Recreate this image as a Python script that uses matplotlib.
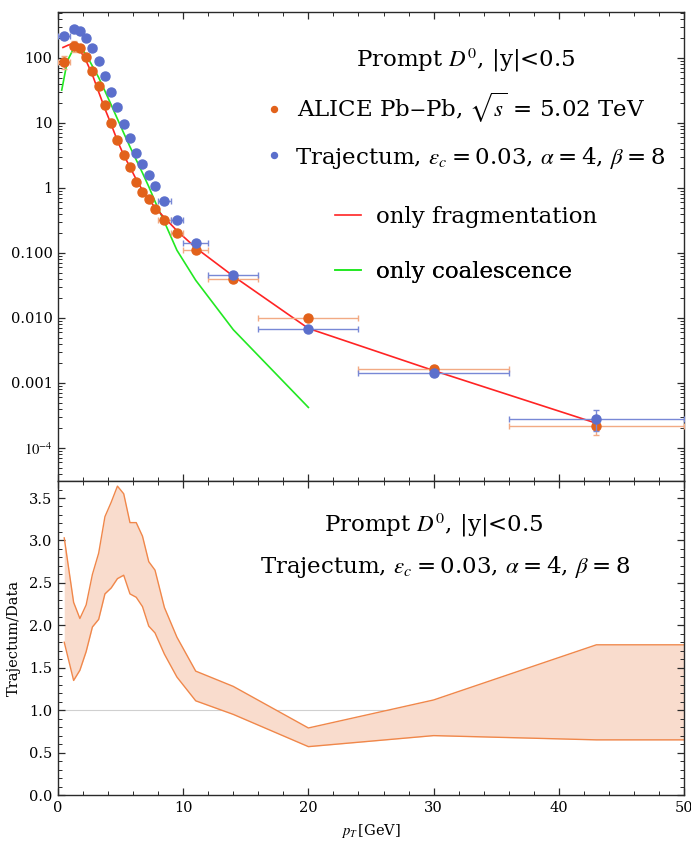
import numpy as np
import matplotlib
matplotlib.use("Agg")
import matplotlib.pyplot as plt
from matplotlib.lines import Line2D
from matplotlib.ticker import MultipleLocator, FixedLocator, LogLocator, NullFormatter

plt.rcParams["font.family"] = ["DejaVu Serif"]
plt.rcParams["mathtext.fontset"] = "stix"

ORANGE = "#e2621b"
BLUE = "#5b6fcc"
RED = "#ff2424"
GREEN = "#22e822"
BAND_EDGE = "#f0874a"
BAND_FILL = "#f9dccd"
FRAME = "#2a2a2a"

# pT bin centres and half widths (GeV)
pt = [0.5, 1.25, 1.75, 2.25, 2.75, 3.25, 3.75, 4.25, 4.75, 5.25, 5.75, 6.25,
      6.75, 7.25, 7.75, 8.5, 9.5, 11, 14, 20, 30, 43]
pt_half = [0.5, 0.25, 0.25, 0.25, 0.25, 0.25, 0.25, 0.25, 0.25, 0.25, 0.25, 0.25,
           0.25, 0.25, 0.25, 0.5, 0.5, 1, 2, 4, 6, 7]

# ALICE Pb-Pb prompt D0 yield and relative uncertainty
alice = [88, 153, 141, 102, 63, 37, 18.7, 10.1, 5.5, 3.2, 2.13, 1.25,
         0.88, 0.67, 0.47, 0.32, 0.20, 0.11, 0.040, 0.0101, 0.00162, 2.2e-4]
alice_rel = [0.22, 0.2, 0.12, 0.1, 0.1, 0.1, 0.12, 0.12, 0.12, 0.1, 0.1, 0.1,
             0.1, 0.1, 0.1, 0.1, 0.1, 0.1, 0.1, 0.1, 0.12, 0.28]

# Trajectum prediction and relative uncertainty
traj = [215, 277, 260, 205, 141, 90, 53, 30, 17.4, 9.7, 5.9, 3.5,
        2.3, 1.6, 1.07, 0.64, 0.32, 0.14, 0.046, 0.0068, 0.00143, 2.8e-4]
traj_rel = [0.02, 0.02, 0.02, 0.02, 0.02, 0.02, 0.02, 0.02, 0.02, 0.02, 0.02, 0.02,
            0.02, 0.02, 0.02, 0.03, 0.03, 0.04, 0.05, 0.06, 0.1, 0.35]

# fragmentation-only and coalescence-only curves
frag_pt = [0.4, 0.8, 1.25, 1.75, 2.25, 2.75, 3.25, 3.75, 4.25, 4.75, 5.25, 5.75,
           6.25, 6.75, 7.25, 7.75, 8.5, 9.5, 11, 14, 20, 30, 43]
frag = [145, 157, 168, 132, 90, 55, 30, 16.5, 9.5, 5.3, 3.2, 2.1,
        1.35, 0.92, 0.67, 0.50, 0.35, 0.22, 0.12, 0.044, 0.0069, 0.00155, 2.4e-4]
coal_pt = [0.3, 0.75, 1.25, 1.75, 2.25, 2.75, 3.25, 3.75, 4.25, 4.75, 5.25, 5.75,
           6.25, 6.75, 7.25, 7.75, 8.5, 9.5, 11, 14, 20]
coal = [32, 90, 140, 150, 112, 75, 50, 31, 19, 11.5, 7.0, 4.3,
        2.7, 1.7, 1.05, 0.62, 0.30, 0.11, 0.038, 0.0066, 4.2e-4]

# Trajectum/Data band
ratio_pt = pt + [50]
ratio_hi = [3.03, 2.27, 2.08, 2.24, 2.60, 2.85, 3.28, 3.45, 3.64, 3.55, 3.21, 3.21,
            3.05, 2.75, 2.65, 2.21, 1.86, 1.46, 1.28, 0.79, 1.12, 1.77, 1.77]
ratio_lo = [1.80, 1.35, 1.47, 1.69, 1.98, 2.07, 2.37, 2.44, 2.55, 2.59, 2.37, 2.33,
            2.22, 1.99, 1.91, 1.66, 1.39, 1.11, 0.95, 0.57, 0.70, 0.65, 0.65]

title_txt = r"Prompt $D^0$, |y|<0.5"
alice_txt = r"ALICE Pb$-$Pb, $\sqrt{s}$ = 5.02 TeV"
traj_txt = ("Trajectum, $\\epsilon_c$\u2009=\u20090.03, $\\alpha$\u2009=\u20094, "
            "$\\beta$\u2009=\u20098")

fig = plt.figure(figsize=(6.91, 8.42), dpi=100)
ax1 = fig.add_axes([0.0839, 0.4282, 0.906, 0.5576])
ax2 = fig.add_axes([0.0839, 0.0558, 0.906, 0.3724], sharex=ax1)

# ---- spectrum panel ----
ax1.plot(coal_pt, coal, color=GREEN, lw=1.2, zorder=2)
ax1.plot(frag_pt, frag, color=RED, lw=1.2, zorder=2)

a = np.array(alice)
t = np.array(traj)
ax1.errorbar(pt, a, yerr=a * np.array(alice_rel), xerr=pt_half, fmt="o", ms=6.5,
             color=ORANGE, ecolor="#f2aa84", elinewidth=1.0, capsize=2.5,
             capthick=1.0, zorder=3)
ax1.errorbar(pt, t, yerr=t * np.array(traj_rel), xerr=pt_half, fmt="o", ms=6.5,
             color=BLUE, ecolor="#7888d6", elinewidth=1.0, capsize=2.5,
             capthick=1.0, zorder=4)

ax1.set_yscale("log")
ax1.set_xlim(0, 50)
ax1.set_ylim(3.05e-5, 510)
ax1.yaxis.set_major_locator(FixedLocator([1e-4, 1e-3, 1e-2, 1e-1, 1, 10, 100]))
ax1.set_yticklabels([r"$10^{-4}$", "0.001", "0.010", "0.100", "1", "10", "100"])
ax1.yaxis.set_minor_locator(LogLocator(base=10, subs=np.arange(2, 10), numticks=20))
ax1.yaxis.set_minor_formatter(NullFormatter())
plt.setp(ax1.get_xticklabels(), visible=False)

# legend block
fs = 16.5
ax1.text(0.652, 0.898, title_txt, transform=ax1.transAxes,
         fontsize=fs, ha="center", va="center")
entries = [
    (Line2D([], [], ls="", marker="o", ms=4.3, color=ORANGE), alice_txt,
     0.334, 0.795, 0.6, 0.7),
    (Line2D([], [], ls="", marker="o", ms=4.3, color=BLUE), traj_txt,
     0.334, 0.690, 0.6, 0.62),
    (Line2D([], [], color=RED, lw=1.2), "only fragmentation",
     0.4425, 0.563, 1.13, 0.66),
    (Line2D([], [], color=GREEN, lw=1.2), "only coalescence",
     0.4425, 0.446, 1.13, 0.66),
]
for h, lab, x, y, hl, hp in entries:
    leg = ax1.legend([h], [lab], loc="center left", bbox_to_anchor=(x, y),
                     frameon=False, fontsize=fs, borderpad=0, borderaxespad=0,
                     handlelength=hl, handletextpad=hp)
    ax1.add_artist(leg)

# ---- ratio panel ----
ax2.fill_between(ratio_pt, ratio_lo, ratio_hi, color=BAND_FILL, lw=0, zorder=1)
ax2.plot(ratio_pt, ratio_hi, color=BAND_EDGE, lw=1.0, zorder=2)
ax2.plot(ratio_pt, ratio_lo, color=BAND_EDGE, lw=1.0, zorder=2)
ax2.axhline(1.0, color="#d0d0d0", lw=0.8, zorder=0)

ax2.set_ylim(0, 3.695)
ax2.yaxis.set_major_locator(MultipleLocator(0.5))
ax2.yaxis.set_minor_locator(MultipleLocator(0.1))
ax2.yaxis.set_major_formatter(plt.FuncFormatter(lambda v, p: f"{v:.1f}"))
ax2.xaxis.set_major_locator(MultipleLocator(10))
ax2.xaxis.set_minor_locator(MultipleLocator(2))
ax2.set_xlabel(r"$p_T\,$[GeV]", fontsize=10.5, labelpad=5)
ax2.set_ylabel("Trajectum/Data", fontsize=10.5, labelpad=6)

ax2.text(0.601, 0.861, title_txt, transform=ax2.transAxes,
         fontsize=fs, ha="center", va="center")
ax2.text(0.618, 0.727, traj_txt, transform=ax2.transAxes,
         fontsize=fs, ha="center", va="center")

for ax in (ax1, ax2):
    for s in ax.spines.values():
        s.set_color(FRAME)
        s.set_linewidth(1.0)
    ax.tick_params(which="both", direction="in", top=True, right=True,
                   color=FRAME, labelsize=10.5, pad=4)
    ax.tick_params(which="major", length=5, width=0.9)
    ax.tick_params(which="minor", length=2.8, width=0.7)

fig.savefig("out.png", dpi=100)
plt.close(fig)
